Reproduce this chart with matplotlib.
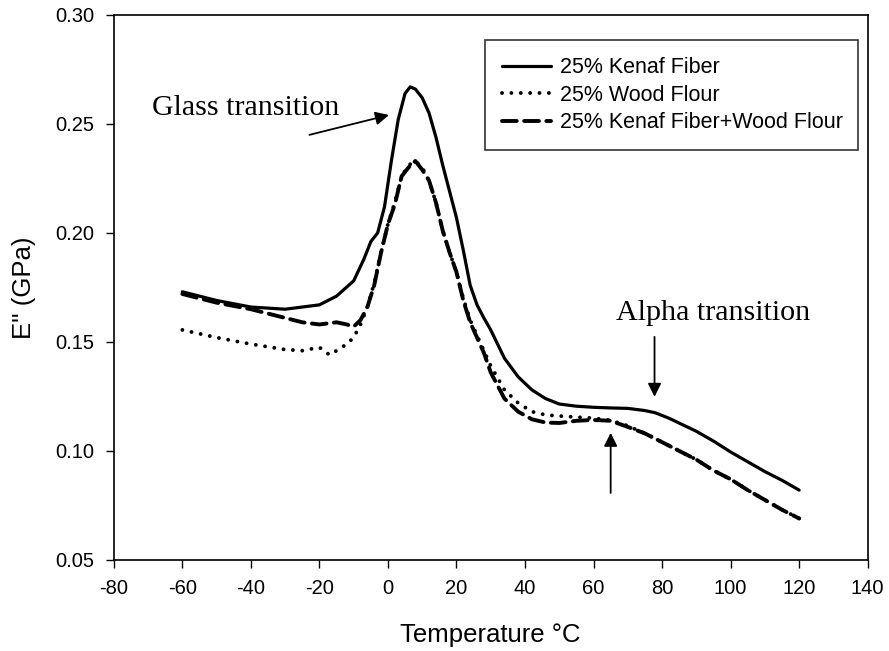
import matplotlib
matplotlib.use("Agg")
import matplotlib.pyplot as plt

# Temperature (deg C) and loss modulus E'' (GPa)
kenaf_t = [-60, -50, -40, -30, -20, -15, -10, -7, -5, -3, -1, 1, 3, 5, 6.5, 8,
           10, 12, 14, 16, 18, 20, 22, 24, 26, 28, 30, 34, 38, 42, 46, 50, 55,
           60, 65, 70, 75, 78, 82, 86, 90, 95, 100, 105, 110, 115, 120]
kenaf_e = [0.173, 0.169, 0.166, 0.165, 0.167, 0.171, 0.178, 0.188, 0.196,
           0.200, 0.212, 0.233, 0.252, 0.264, 0.267, 0.266, 0.262, 0.255,
           0.244, 0.231, 0.219, 0.207, 0.192, 0.176, 0.167, 0.161, 0.1555,
           0.1425, 0.134, 0.128, 0.124, 0.1215, 0.1205, 0.1200, 0.1197,
           0.1195, 0.1185, 0.1175, 0.115, 0.112, 0.109, 0.1045, 0.0995,
           0.0950, 0.0905, 0.0865, 0.0820]

wood_t = [-60, -50, -40, -30, -25, -20, -17, -15, -12, -10, -8, -6, -4, -2, 0,
          2, 4, 6, 8, 10, 12, 14, 16, 18, 20, 22, 24, 26, 28, 30, 34, 38, 42,
          46, 50, 55, 60, 65, 70, 75, 80, 85, 90, 95, 100, 105, 110, 115, 120]
wood_e = [0.1555, 0.152, 0.149, 0.1465, 0.146, 0.1475, 0.144, 0.146, 0.149,
          0.152, 0.158, 0.166, 0.177, 0.191, 0.204, 0.214, 0.226, 0.231,
          0.233, 0.230, 0.224, 0.214, 0.201, 0.191, 0.182, 0.170, 0.160,
          0.153, 0.146, 0.139, 0.128, 0.122, 0.118, 0.1165, 0.116, 0.1155,
          0.115, 0.114, 0.1115, 0.108, 0.104, 0.100, 0.096, 0.091, 0.087,
          0.082, 0.0775, 0.073, 0.069]

mix_t = [-60, -50, -40, -35, -30, -25, -20, -15, -12, -10, -8, -6, -4, -2, 0,
         2, 4, 6, 8, 10, 12, 14, 16, 18, 20, 22, 24, 26, 28, 30, 34, 38, 42,
         46, 50, 55, 60, 65, 70, 75, 80, 85, 90, 95, 100, 105, 110, 115, 120]
mix_e = [0.172, 0.168, 0.165, 0.163, 0.161, 0.159, 0.158, 0.159, 0.158,
         0.157, 0.160, 0.166, 0.176, 0.191, 0.204, 0.213, 0.226, 0.230,
         0.233, 0.229, 0.224, 0.214, 0.201, 0.191, 0.182, 0.169, 0.159,
         0.152, 0.145, 0.136, 0.124, 0.118, 0.1145, 0.113, 0.1128, 0.1138,
         0.1142, 0.1138, 0.111, 0.108, 0.104, 0.100, 0.096, 0.091, 0.087,
         0.082, 0.0775, 0.073, 0.069]

labels = ["25% Kenaf Fiber", "25% Wood Flour", "25% Kenaf Fiber+Wood Flour"]
x_ticks = [-80, -60, -40, -20, 0, 20, 40, 60, 80, 100, 120, 140]
y_ticks = [0.05, 0.10, 0.15, 0.20, 0.25, 0.30]

SANS = "Liberation Sans"
SERIF = "Liberation Serif"
plt.rcParams["axes.unicode_minus"] = False

fig = plt.figure(figsize=(8.89, 6.51), dpi=100)
ax = fig.add_axes([0.128, 0.140, 0.848, 0.837])

ax.plot(kenaf_t, kenaf_e, color="black", lw=2.3, solid_capstyle="round",
        label=labels[0])
ax.plot(wood_t, wood_e, color="black", lw=2.8, linestyle=(0, (0.01, 2.4)),
        dash_capstyle="round", label=labels[1])
ax.plot(mix_t, mix_e, color="black", lw=2.8, linestyle=(0, (3.8, 1.9)),
        dash_capstyle="round", label=labels[2])

ax.set_xlim(-80, 140)
ax.set_ylim(0.05, 0.30)
ax.set_xticks(x_ticks)
ax.set_yticks(y_ticks)
ax.set_yticklabels([f"{v:.2f}" for v in y_ticks])
ax.tick_params(direction="out", length=6, width=1, labelsize=14.5, pad=8,
               top=False, right=False)
for lab in ax.get_xticklabels() + ax.get_yticklabels():
    lab.set_fontfamily(SANS)
for sp in ax.spines.values():
    sp.set_linewidth(1.2)

ax.set_xlabel("Temperature \u00b0C", fontsize=18.5, fontfamily=SANS, labelpad=18)
ax.set_ylabel("E'' (GPa)", fontsize=18.5, fontfamily=SANS, labelpad=14)

# annotations
ax.text(-68.9, 0.2541, "Glass transition", fontsize=21.5, fontfamily=SERIF,
        va="baseline", ha="left")
ax.annotate("", xy=(0.3, 0.2541), xytext=(-22.9, 0.245),
            arrowprops=dict(arrowstyle="-|>", color="black", lw=1.3,
                            mutation_scale=20, shrinkA=0, shrinkB=0))
ax.text(66.7, 0.160, "Alpha transition", fontsize=21.6, fontfamily=SERIF,
        va="baseline", ha="left")
ax.annotate("", xy=(77.8, 0.1248), xytext=(77.8, 0.1523),
            arrowprops=dict(arrowstyle="-|>", color="black", lw=1.3,
                            mutation_scale=20, shrinkA=0, shrinkB=0))
ax.annotate("", xy=(65, 0.1083), xytext=(65, 0.0807),
            arrowprops=dict(arrowstyle="-|>", color="black", lw=1.3,
                            mutation_scale=20, shrinkA=0, shrinkB=0))

leg = ax.legend(loc="upper left", bbox_to_anchor=(0.492, 0.756, 0.495, 0.198),
                mode="expand", borderaxespad=0, fancybox=False,
                edgecolor="black", handlelength=2.3, handletextpad=0.4,
                labelspacing=0.3, borderpad=0.8,
                prop={"family": SANS, "size": 15.5})
leg.get_frame().set_linewidth(1.2)

fig.savefig("out.png", dpi=100)
